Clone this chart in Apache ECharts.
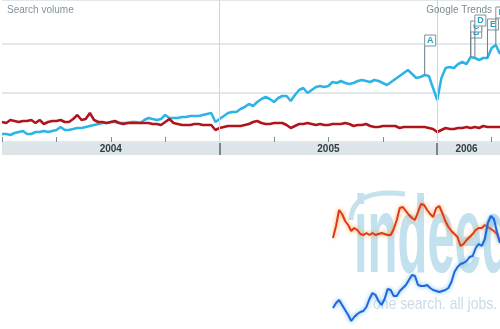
<!DOCTYPE html>
<html>
<head>
<meta charset="utf-8">
<script src="https://cdn.jsdelivr.net/npm/echarts@6/dist/echarts.min.js"></script>
<style>
html,body{margin:0;padding:0;background:#fff;}
#chart{width:500px;height:329px;}
</style>
</head>
<body>
<div id="chart"></div>
<script>
// ---- Google Trends panel (weekly, from Jan 2004) ----
const weeks = Array.from({length: 120}, (_, i) => i);
const trendsBlue = [
  8,8,7,9,10,11,8,8,10,10,
  11,10,11,12,15,12,12,13,14,14,
  15,16,17,18,19,19,20,20,19,19,
  19,20,20,19,22,24,23,22,23,27,
  24,24,24,25,25,26,26,26,27,28,
  29,20,23,26,29,30,30,33,35,38,
  36,40,43,45,43,40,44,46,46,41,
  47,52,54,49,52,55,56,55,56,60,
  59,61,59,58,59,61,62,61,60,62,
  61,59,57,60,63,66,69,72,68,64,
  65,67,66,54,42,64,74,75,74,78,
  80,78,85,84,82,84,84,94,97,88
];
const trendsRed = [
  20,19,22,21,20,21,21,22,19,22,
  18,20,21,21,22,20,20,23,27,22,
  23,29,22,20,20,19,20,21,19,18,
  19,19,19,19,19,19,18,18,17,20,
  23,19,18,17,17,17,18,18,17,17,
  17,12,14,15,16,16,16,16,17,18,
  20,21,19,18,18,19,19,19,17,14,
  16,18,18,19,18,17,18,17,17,18,
  18,18,19,18,16,17,17,18,16,15,
  15,16,16,16,16,14,15,15,15,15,
  15,15,14,13,10,12,14,13,13,14,
  14,15,14,15,14,16,15,15,15,15
];
const yearStarts = [52, 104];
const yearLabels = ['2004', '2005', '2006'];
const yearLabelWeeks = [26, 78, 111];
const annLetters = ['A', 'B', 'C', 'D', 'E', 'F'];
const annWeeks = [101, 112, 112, 113, 116, 118];
const annTops = [96, 104, 110, 116, 112, 124];

// ---- Indeed panel ----
const indeedSteps = Array.from({length: 56}, (_, i) => i);
const indeedOrange = [
  91,103,119,115,108,104,98,101,99,95,
  94,96,94,96,94,95,96,95,94,94,
  100,109,121,122,118,114,111,109,117,125,
  124,119,115,112,121,123,116,108,102,98,
  95,92,83,85,89,92,95,99,101,101,
  104,102,100,98,95,87
];
const indeedBlue = [
  21,26,29,24,19,14,8,12,15,17,
  18,22,30,36,34,28,24,30,40,39,
  33,33,38,41,44,49,54,53,44,43,
  43,44,41,39,38,37,38,39,41,47,
  57,62,65,66,68,72,73,81,85,83,
  90,106,113,110,97,86
];

const chart = echarts.init(document.getElementById('chart'));
const FONT = '"Liberation Sans", Arial, sans-serif';

chart.setOption({
  animation: false,
  backgroundColor: '#ffffff',
  title: [
    {text: 'Search volume', left: 2, top: 0, textStyle: {fontSize: 10, fontWeight: 'normal', color: '#7f959c', fontFamily: FONT}},
    {text: 'Google Trends', right: 3, top: 0, textStyle: {fontSize: 10, fontWeight: 'normal', color: '#7a8b91', fontFamily: FONT}}
  ],
  graphic: [
    {type: 'bezierCurve', z: 0, shape: {x1: 351, y1: 220, cpx1: 352, cpy1: 188, x2: 405, y2: 194},
      style: {stroke: '#c4e1ee', lineWidth: 5, fill: null}},
    {type: 'text', z: 0, x: 354, y: 242, scaleX: 0.445,
      style: {text: 'indeed', font: 'bold 110px ' + FONT, fill: '#c2e0ed', textAlign: 'left', textVerticalAlign: 'middle'}},
    {type: 'text', z: 0, x: 497, y: 304, scaleX: 0.82,
      style: {text: 'one search. all jobs.', font: '17px ' + FONT, fill: '#c8dbe5', textAlign: 'right', textVerticalAlign: 'middle'}}
  ],
  grid: [
    {left: 2, right: 0, top: 0, height: 142},
    {left: 2, right: 0, top: 143, height: 12, show: true, backgroundColor: '#dde5e8', borderWidth: 0},
    {left: 333, top: 199, width: 167, height: 130}
  ],
  xAxis: [
    {gridIndex: 0, type: 'value', min: 0, max: 119, interval: 13,
      axisLine: {show: false}, axisLabel: {show: false}, splitLine: {show: false},
      axisTick: {show: true, inside: true, length: 5, lineStyle: {color: '#7e8b90', width: 1}}},
    {gridIndex: 1, type: 'category', data: weeks.map(String), boundaryGap: false,
      axisLine: {show: false}, axisTick: {show: false},
      axisLabel: {show: true, inside: true, margin: 1,
        interval: (idx) => yearLabelWeeks.includes(idx),
        formatter: (val, idx) => yearLabels[yearLabelWeeks.indexOf(idx)] || '',
        fontSize: 10, fontWeight: 'bold', color: '#2f3d42', fontFamily: FONT},
      splitLine: {show: true, interval: (idx) => yearStarts.includes(idx), lineStyle: {color: '#56666c', width: 1.5}}},
    {gridIndex: 2, type: 'value', min: 0, max: 55, show: false}
  ],
  yAxis: [
    {gridIndex: 0, type: 'value', min: 0, max: 142, interval: 49,
      axisLine: {show: false}, axisTick: {show: false}, axisLabel: {show: false},
      splitLine: {show: true, lineStyle: {color: '#d6e0e4', width: 1.5}}},
    {gridIndex: 1, type: 'value', show: false},
    {gridIndex: 2, type: 'value', min: 0, max: 130, show: false}
  ],
  series: [
    {type: 'line', xAxisIndex: 0, yAxisIndex: 0, z: 3, showSymbol: false, silent: true,
      data: trendsBlue.map((v, i) => [weeks[i], v]),
      lineStyle: {color: '#2cb4e6', width: 2.5}},
    {type: 'line', xAxisIndex: 0, yAxisIndex: 0, z: 4, showSymbol: false, silent: true,
      data: trendsRed.map((v, i) => [weeks[i], v]),
      lineStyle: {color: '#b0141c', width: 2.5},
      markLine: {silent: true, symbol: 'none', label: {show: false},
        lineStyle: {color: '#cdd7db', width: 1, type: 'solid'},
        data: yearStarts.map(w => ({xAxis: w}))}},
    {type: 'custom', xAxisIndex: 0, yAxisIndex: 0, z: 5, silent: true,
      data: annWeeks.map((w, i) => [w, annTops[i], trendsBlue[w]]),
      encode: {x: 0, y: 1},
      renderItem: function (params, api) {
        const w = api.value(0);
        const top = api.coord([w, api.value(1)]);
        const base = api.coord([w, api.value(2)]);
        return {type: 'group', children: [
          {type: 'line', shape: {x1: base[0], y1: base[1], x2: top[0], y2: top[1]},
            style: {stroke: '#6b7d84', lineWidth: 1}},
          {type: 'rect', shape: {x: top[0], y: top[1] - 11, width: 11, height: 11},
            style: {fill: '#ffffff', stroke: '#7f9298', lineWidth: 1}},
          {type: 'text', style: {text: annLetters[params.dataIndex], x: top[0] + 5.5, y: top[1] - 5.3,
            textAlign: 'center', textVerticalAlign: 'middle', font: 'bold 9px ' + FONT, fill: '#1ba6c9'}}
        ]};
      }},
    {type: 'line', xAxisIndex: 2, yAxisIndex: 2, z: 3, showSymbol: false, silent: true,
      data: indeedOrange.map((v, i) => [indeedSteps[i], v]),
      lineStyle: {color: '#e2381a', width: 2, shadowColor: '#f6a048', shadowBlur: 4}},
    {type: 'line', xAxisIndex: 2, yAxisIndex: 2, z: 3, showSymbol: false, silent: true,
      data: indeedBlue.map((v, i) => [indeedSteps[i], v]),
      lineStyle: {color: '#1c6ad8', width: 2, shadowColor: '#6bb0f2', shadowBlur: 4}}
  ]
});
</script>
</body>
</html>
